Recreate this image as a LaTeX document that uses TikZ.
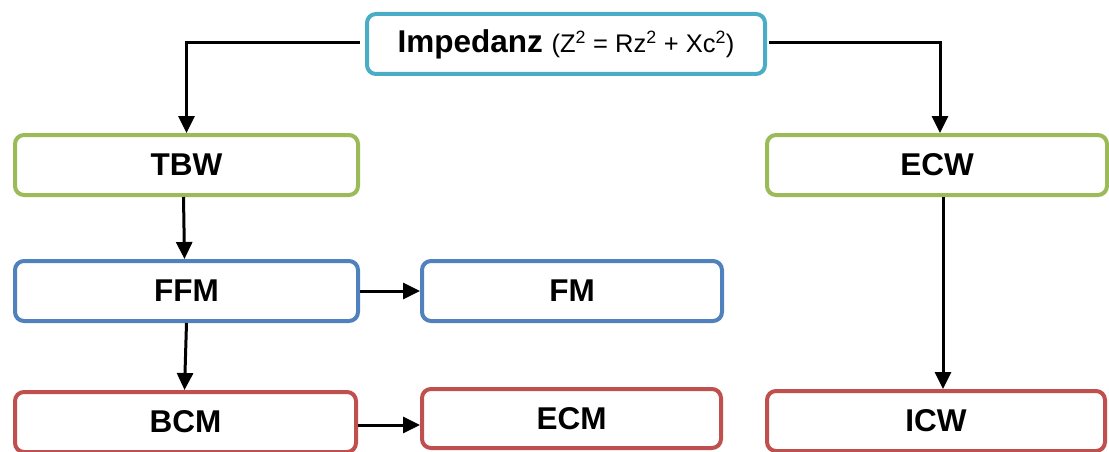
\documentclass[tikz,border=0pt]{standalone}
\usepackage{fontspec}
\setmainfont{Liberation Sans}
\usetikzlibrary{arrows.meta}
\definecolor{cteal}{HTML}{4BACC6}
\definecolor{cgreen}{HTML}{9BBB59}
\definecolor{cblue}{HTML}{4F81BD}
\definecolor{cred}{HTML}{C0504D}
\tikzset{
  box/.style={draw, line width=4pt, rounded corners=9pt, fill=white, minimum height=60pt,
    inner sep=0pt, font=\fontsize{31.5}{36}\selectfont\bfseries},
  conn/.style={line width=3pt, -{Triangle[length=17pt,width=16pt]}},
}
\begin{document}
\begin{tikzpicture}[x=1pt,y=-1pt]
\clip (0,0) rectangle (1109,452);
\useasboundingbox (0,0) rectangle (1109,452);
\node[box, draw=cteal, minimum width=398pt] (imp) at (566,44)
  {Impedanz \fontsize{25.5}{29}\selectfont\mdseries(Z\textsuperscript{2} = Rz\textsuperscript{2} + Xc\textsuperscript{2})};
\node[box, draw=cgreen, minimum width=343pt] (tbw) at (186.5,165) {TBW};
\node[box, draw=cgreen, minimum width=340pt] (ecw) at (937,165) {ECW};
\node[box, draw=cblue, minimum width=343pt] (ffm) at (186.5,291) {FFM};
\node[box, draw=cblue, minimum width=300pt] (fm) at (572,291) {FM};
\node[box, draw=cred, minimum width=341pt] (bcm) at (185.5,422) {BCM};
\node[box, draw=cred, minimum width=299pt, minimum height=59pt] (ecm) at (571.5,418.5) {ECM};
\node[box, draw=cred, minimum width=338pt] (icw) at (936,421) {ICW};
\draw[conn, shorten <=5pt] ([yshift=1pt]imp.west) -| (tbw.north);
\draw[conn, shorten <=2pt] ([yshift=1pt]imp.east) -| ([xshift=3pt]ecw.north);
\draw[conn] ([xshift=-3pt]tbw.south) -- ([xshift=-2pt]ffm.north);
\draw[conn] (ffm.south) -- ([xshift=-1pt]bcm.north);
\draw[conn] (ffm.east) -- (fm.west);
\draw[conn] ([yshift=-3pt]bcm.east) -- ([yshift=-6.5pt]ecm.west);
\draw[conn] ([xshift=6pt]ecw.south) -- ([xshift=7pt]icw.north);
\end{tikzpicture}
\end{document}
